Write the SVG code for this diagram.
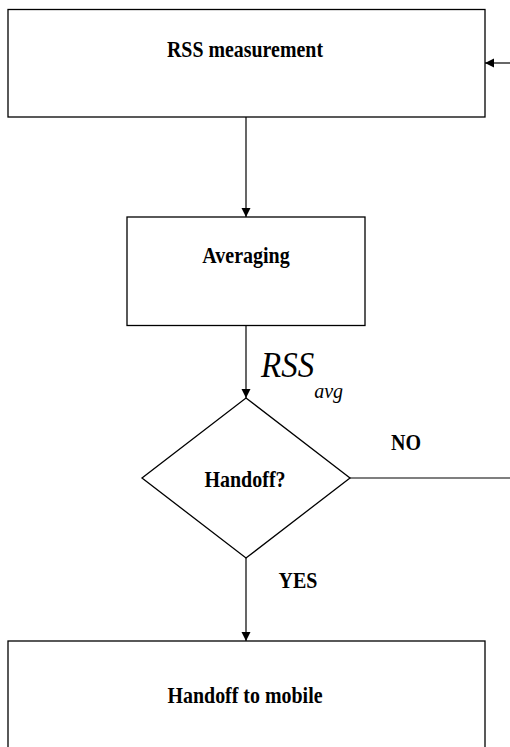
<svg xmlns="http://www.w3.org/2000/svg" width="510" height="747" viewBox="0 0 510 747">
<style>
.box{fill:#fff;stroke:#000;stroke-width:1.3}
.ln{fill:none;stroke:#000;stroke-width:1.2}
.t{font-family:"Liberation Serif","Times New Roman",serif;font-weight:bold;font-size:20px;fill:#000;text-anchor:middle}
.m{font-family:"Liberation Serif","Times New Roman",serif;font-style:italic;fill:#000}
</style>
<defs>
<marker id="ah" markerWidth="10" markerHeight="10" refX="9" refY="5" orient="auto" markerUnits="userSpaceOnUse">
<path d="M0,0.5 L9,5 L0,9.5 Z" fill="#000"/>
</marker>
</defs>
<rect width="510" height="747" fill="#fff"/>
<g id="connectors">
<line class="ln" x1="246" y1="117" x2="246" y2="217" marker-end="url(#ah)"/>
<line class="ln" x1="246" y1="326" x2="246" y2="398" marker-end="url(#ah)"/>
<line class="ln" x1="246" y1="558" x2="246" y2="641" marker-end="url(#ah)"/>
<line class="ln" x1="350" y1="478" x2="510" y2="478"/>
<line class="ln" x1="510" y1="63" x2="485" y2="63" marker-end="url(#ah)"/>
<text class="m" transform="translate(261,377) scale(1,1.1)" font-size="33">RSS<tspan font-size="20" dy="19">avg</tspan></text>
<text class="t" transform="translate(406,450) scale(1,1.15)">NO</text>
<text class="t" transform="translate(298,588) scale(1,1.15)">YES</text>
</g>
<g id="rss">
<rect class="box" x="8" y="9.5" width="477" height="107.5"/>
<text class="t" transform="translate(245,57) scale(1,1.15)" textLength="156" lengthAdjust="spacingAndGlyphs">RSS measurement</text>
</g>
<g id="averaging">
<rect class="box" x="127" y="217" width="238" height="108.5"/>
<text class="t" transform="translate(246,263) scale(1,1.15)">Averaging</text>
</g>
<g id="handoff">
<polygon class="box" points="246,398 350,478 246,558 142,478"/>
<text class="t" transform="translate(245,487) scale(1,1.15)">Handoff?</text>
</g>
<g id="mobile">
<rect class="box" x="8" y="641" width="477" height="120"/>
<text class="t" transform="translate(245,703) scale(1,1.15)" textLength="155" lengthAdjust="spacingAndGlyphs">Handoff to mobile</text>
</g>
</svg>
